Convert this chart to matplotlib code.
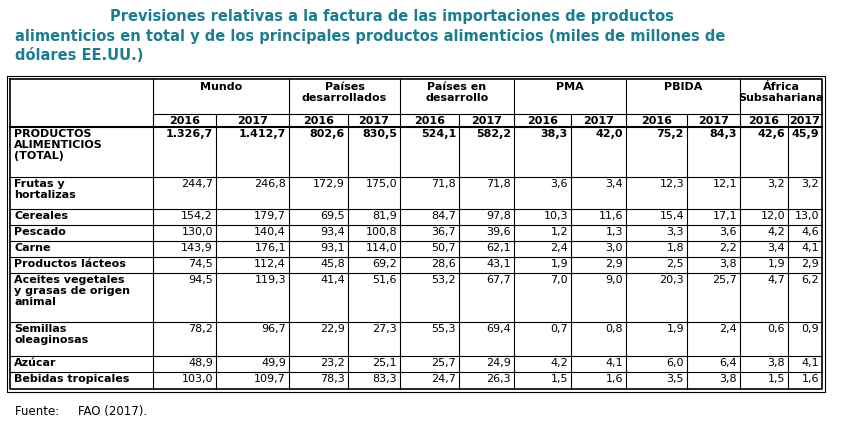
import matplotlib.pyplot as plt

titulo = ["Previsiones relativas a la factura de las importaciones de productos",
          "alimenticios en total y de los principales productos alimenticios (miles de millones de",
          "dólares EE.UU.)"]
grupos = ["Mundo", "Países\ndesarrollados", "Países en\ndesarrollo", "PMA", "PBIDA", "África\nSubsahariana"]
anios = ["2016", "2017"]
filas = ["PRODUCTOS\nALIMENTICIOS\n(TOTAL)", "Frutas y\nhortalizas", "Cereales", "Pescado", "Carne",
         "Productos lácteos", "Aceites vegetales\ny grasas de origen\nanimal", "Semillas\noleaginosas",
         "Azúcar", "Bebidas tropicales"]
valores = [
    ["1.326,7", "1.412,7", "802,6", "830,5", "524,1", "582,2", "38,3", "42,0", "75,2", "84,3", "42,6", "45,9"],
    ["244,7", "246,8", "172,9", "175,0", "71,8", "71,8", "3,6", "3,4", "12,3", "12,1", "3,2", "3,2"],
    ["154,2", "179,7", "69,5", "81,9", "84,7", "97,8", "10,3", "11,6", "15,4", "17,1", "12,0", "13,0"],
    ["130,0", "140,4", "93,4", "100,8", "36,7", "39,6", "1,2", "1,3", "3,3", "3,6", "4,2", "4,6"],
    ["143,9", "176,1", "93,1", "114,0", "50,7", "62,1", "2,4", "3,0", "1,8", "2,2", "3,4", "4,1"],
    ["74,5", "112,4", "45,8", "69,2", "28,6", "43,1", "1,9", "2,9", "2,5", "3,8", "1,9", "2,9"],
    ["94,5", "119,3", "41,4", "51,6", "53,2", "67,7", "7,0", "9,0", "20,3", "25,7", "4,7", "6,2"],
    ["78,2", "96,7", "22,9", "27,3", "55,3", "69,4", "0,7", "0,8", "1,9", "2,4", "0,6", "0,9"],
    ["48,9", "49,9", "23,2", "25,1", "25,7", "24,9", "4,2", "4,1", "6,0", "6,4", "3,8", "4,1"],
    ["103,0", "109,7", "78,3", "83,3", "24,7", "26,3", "1,5", "1,6", "3,5", "3,8", "1,5", "1,6"],
]
fuente = "Fuente:     FAO (2017)."

# bordes de columnas y filas en pixeles
xc = [10, 153, 216, 289, 348, 400, 459, 514, 571, 626, 687, 740, 788, 822]
yr = [80, 115, 128, 178, 210, 226, 242, 258, 274, 323, 357, 373, 390]
azul = "#1b7d8f"
fs = 8

fig = plt.figure(figsize=(8.63, 4.27), dpi=100)
ax = fig.add_axes([0, 0, 1, 1])
ax.set_xlim(0, 863)
ax.set_ylim(427, 0)
ax.axis("off")

for i, t in enumerate(titulo):
    x = 110 if i == 0 else 15
    ax.text(x, 16 + i * 20, t, color=azul, fontsize=10.5, fontweight="bold", va="center")

# lineas de la tabla
for y in yr[1:-1]:
    if y == yr[1]:
        ax.plot([xc[1], xc[-1]], [y, y], color="black", lw=0.8)
    elif y == yr[2]:
        ax.plot([xc[0], xc[-1]], [y, y], color="black", lw=1.5)
    else:
        ax.plot([xc[0], xc[-1]], [y, y], color="black", lw=0.8)
for k, x in enumerate(xc[1:-1], start=1):
    y0 = yr[0] if k % 2 == 1 else yr[1]
    ax.plot([x, x], [y0, yr[-1]], color="black", lw=0.8)
for d, lw in [(0, 1.2), (3, 0.8)]:
    ax.plot([xc[0] - d, xc[-1] + d, xc[-1] + d, xc[0] - d, xc[0] - d],
            [yr[0] - d, yr[0] - d, yr[-1] + d, yr[-1] + d, yr[0] - d], color="black", lw=lw)

# encabezados
for g, nombre in enumerate(grupos):
    xm = (xc[1 + 2 * g] + xc[3 + 2 * g]) / 2
    ax.text(xm, yr[0] + 2, nombre, ha="center", va="top", fontsize=fs, fontweight="bold", linespacing=1.1)
    for a in range(2):
        xa = (xc[1 + 2 * g + a] + xc[2 + 2 * g + a]) / 2
        ax.text(xa, (yr[1] + yr[2]) / 2, anios[a], ha="center", va="center",
                fontsize=fs, fontweight="bold")

# filas
for r, nombre in enumerate(filas):
    ax.text(xc[0] + 4, yr[2 + r] + 1.5, nombre, ha="left", va="top", fontsize=fs,
            fontweight="bold", linespacing=1.1)
    for c, v in enumerate(valores[r]):
        ax.text(xc[2 + c] - 3, yr[2 + r] + 1.5, v, ha="right", va="top", fontsize=fs,
                fontweight="bold" if r == 0 else "normal")

ax.text(15, 412, fuente, fontsize=fs + 0.5, va="center")

fig.savefig("out.png", dpi=100)
